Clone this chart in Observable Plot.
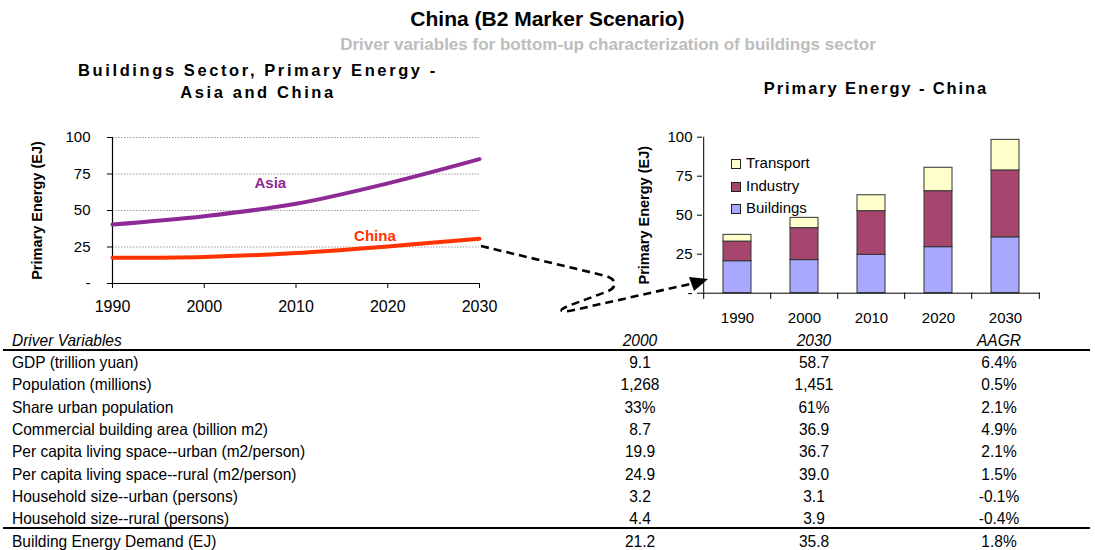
<!DOCTYPE html>
<html><head><meta charset="utf-8">
<script src="https://cdn.jsdelivr.net/npm/d3@7"></script>
<script src="https://cdn.jsdelivr.net/npm/@observablehq/plot@0.6"></script>
<style>
body{margin:0;background:#fff;font-family:Arial,"Liberation Sans",sans-serif;color:#000;}
#root{position:relative;width:1095px;height:550px;overflow:hidden;background:#fff;}
.abs{position:absolute;white-space:nowrap;}
.title{font-weight:bold;font-size:21px;left:0;width:1095px;text-align:center;line-height:24px;}
.sub{font-weight:bold;font-size:17px;text-align:center;color:#bdbdbd;line-height:20px;}
.ctitle{font-weight:bold;font-size:16.5px;letter-spacing:2.6px;text-align:center;line-height:22px;}
.leg{font-size:15px;line-height:18px;}
.sw{position:absolute;width:8px;height:8px;border:1px solid #222;}
.tbl{font-family:Arial,"Liberation Sans",sans-serif;font-size:16.5px;line-height:20px;transform:scaleX(0.94);transform-origin:left center;}
.num{width:120px;text-align:center;transform-origin:center center;}
.rule{position:absolute;height:2px;background:#000;}
</style></head><body><div id="root"></div><script>
// ---------- data ----------
const years = [1990, 2000, 2010, 2020, 2030];
const asia  = [40.4, 46.1, 54.6, 68.6, 85.2];
const china = [17.7, 18.2, 20.9, 25.4, 30.7];
const sectors = ["Buildings", "Industry", "Transport"];
const buildings = [20.5, 21.2, 24.6, 29.5, 35.8];
const industry  = [12.6, 20.5, 28.0, 35.9, 42.9];
const transport = [4.3, 6.6, 10.2, 15.0, 19.6];
const yTicks = [0, 25, 50, 75, 100];
const lineNames = ["Asia", "China"];
const lineLabelYear = [2007.2, 2018.6];
const lineLabelValue = [68.4, 32.3];
const tableHeader = ["Driver Variables", "2000", "2030", "AAGR"];
const driverLabels = ["GDP (trillion yuan)", "Population (millions)", "Share urban population",
  "Commercial building area (billion m2)", "Per capita living space--urban (m2/person)",
  "Per capita living space--rural (m2/person)", "Household size--urban (persons)", "Household size--rural (persons)"];
const col2000 = ["9.1", "1,268", "33%", "8.7", "19.9", "24.9", "3.2", "4.4"];
const col2030 = ["58.7", "1,451", "61%", "36.9", "36.7", "39.0", "3.1", "3.9"];
const colAAGR = ["6.4%", "0.5%", "2.1%", "4.9%", "2.1%", "1.5%", "-0.1%", "-0.4%"];
const totalRow = ["Building Energy Demand (EJ)", "21.2", "35.8", "1.8%"];

const root = document.getElementById("root");
const FONT = "Arial, 'Liberation Sans', sans-serif";
function div(cls, text, css) {
  const d = document.createElement("div");
  d.className = "abs " + cls;
  d.textContent = text;
  Object.assign(d.style, css);
  root.appendChild(d);
  return d;
}

// ---------- titles ----------
div("title", "China (B2 Marker Scenario)", {top: "7px"});
div("sub", "Driver variables for bottom-up characterization of buildings sector", {left: "258px", width: "700px", top: "35px"});
div("ctitle", "Buildings Sector, Primary Energy -", {left: "38px", width: "440px", top: "59px"});
div("ctitle", "Asia and China", {left: "38px", width: "440px", top: "81px"});
div("ctitle", "Primary Energy - China", {left: "726px", width: "300px", top: "77px", letterSpacing: "1.9px"});

// ---------- left line chart ----------
const lineData = years.flatMap((y, i) => [
  {year: y, value: asia[i], region: "Asia"},
  {year: y, value: china[i], region: "China"}
]);
const lineLabels = lineNames.map((n, i) => ({name: n, year: lineLabelYear[i], value: lineLabelValue[i]}));
const colors = {Asia: "#8E2A96", China: "#FF3300"};
const left = Plot.plot({
  width: 520, height: 200,
  marginLeft: 112, marginRight: 41, marginTop: 17, marginBottom: 37,
  style: {fontFamily: FONT, fontSize: "15px", color: "#000", background: "transparent", overflow: "visible"},
  x: {domain: [1990, 2030]},
  y: {domain: [0, 100]},
  marks: [
    Plot.gridY(yTicks.slice(1), {stroke: "#9a9a9a", strokeOpacity: 1, strokeDasharray: "1.5,1.5"}),
    Plot.axisY(yTicks, {tickFormat: d => d === 0 ? "-" : String(d), tickSize: 5, tickPadding: 17, label: null, fontSize: 15, stroke: "#000"}),
    Plot.axisX(years, {tickFormat: d => String(d), tickSize: 5, tickPadding: 12, label: null, fontSize: 16, stroke: "#000"}),
    Plot.ruleX([1990], {stroke: "#000", strokeWidth: 1.2}),
    Plot.ruleY([0], {stroke: "#000", strokeWidth: 1.2}),
    Plot.line(lineData, {x: "year", y: "value", z: "region", stroke: d => colors[d.region], strokeWidth: 4, curve: "catmull-rom"}),
    Plot.text(lineLabels, {x: "year", y: "value", text: "name", fill: d => colors[d.name], fontWeight: "bold", fontSize: 15, letterSpacing: "2.2px"}),
    Plot.text(["Primary Energy (EJ)"], {frameAnchor: "left", textAnchor: "middle", rotate: -90, dx: -75, fontWeight: "bold", fontSize: 14.5})
  ]
});
left.style.position = "absolute"; left.style.left = "0px"; left.style.top = "120px";
root.appendChild(left);

// ---------- right stacked bar chart ----------
const barData = years.flatMap((y, i) => [
  {year: y, sector: "Buildings", value: buildings[i]},
  {year: y, sector: "Industry", value: industry[i]},
  {year: y, sector: "Transport", value: transport[i]}
]);
const RW = 555, RML = 162, RMR = 55;
const step = (RW - RML - RMR) / years.length;
const right = Plot.plot({
  width: RW, height: 210,
  marginLeft: RML, marginRight: RMR, marginTop: 16.7, marginBottom: 37.3,
  style: {fontFamily: FONT, fontSize: "15px", color: "#000", background: "transparent", overflow: "visible"},
  x: {type: "band", domain: years, paddingInner: 0.585, paddingOuter: 0.2925},
  y: {domain: [0, 100]},
  color: {domain: sectors, range: ["#A8A8FF", "#A6466F", "#FFFFCC"]},
  marks: [
    Plot.barY(barData, {x: "year", y: "value", fill: "sector", stroke: "#333", strokeWidth: 1, order: sectors}),
    Plot.axisY(yTicks, {tickFormat: d => d === 0 ? "-" : String(d), tickSize: 5, tickPadding: 5, label: null, fontSize: 15, stroke: "#000"}),
    Plot.axisX(years, {tickFormat: d => String(d), tickSize: 0, tickPadding: 19, label: null, fontSize: 15}),
    Plot.ruleX(years, {x: d => d, dx: -step / 2, y1: 0, y2: -4, stroke: "#000"}),
    Plot.ruleX([years[years.length - 1]], {x: d => d, dx: step / 2, y1: 0, y2: -4, stroke: "#000"}),
    Plot.ruleX([years[0]], {x: d => d, dx: -step / 2, y1: 0, y2: 100, stroke: "#000"}),
    Plot.ruleY([0], {stroke: "#000"}),
    Plot.text(["Primary Energy (EJ)"], {frameAnchor: "left", textAnchor: "middle", rotate: -90, dx: -58, fontWeight: "bold", fontSize: 14.5})
  ]
});
right.style.position = "absolute"; right.style.left = "540px"; right.style.top = "120px";
root.appendChild(right);

// legend (top to bottom: Transport, Industry, Buildings)
const legColors = {Buildings: "#A8A8FF", Industry: "#A6466F", Transport: "#FFFFCC"};
sectors.slice().reverse().forEach((s, i) => {
  const top = 154 + i * 22.7;
  const sw = document.createElement("div");
  sw.className = "sw"; sw.style.left = "731px"; sw.style.top = (top + 5) + "px"; sw.style.background = legColors[s];
  root.appendChild(sw);
  div("leg", s, {left: "746px", top: top + "px"});
});

// ---------- dashed arrow annotation ----------
const ns = "http://www.w3.org/2000/svg";
const ov = document.createElementNS(ns, "svg");
ov.setAttribute("width", 1095); ov.setAttribute("height", 550);
ov.style.position = "absolute"; ov.style.left = "0"; ov.style.top = "0"; ov.style.pointerEvents = "none";
ov.innerHTML = `<path d="M481,246 L606,276 C618,280 617,288 606,292 L568,306 C556,311 562,313 574,310 L690,284" fill="none" stroke="#000" stroke-width="2.6" stroke-dasharray="8,5"/>
<polygon points="708,279 689,277 694,291" fill="#000"/>`;
root.appendChild(ov);

// ---------- table ----------
const colCenters = [640, 814, 999];
function row(cells, cy, italic) {
  const top = (cy - 10) + "px";
  div("tbl", cells[0], {left: "12px", top, fontStyle: italic ? "italic" : "normal"});
  cells.slice(1).forEach((c, j) => div("tbl num", c, {left: (colCenters[j] - 60) + "px", top, fontStyle: italic ? "italic" : "normal"}));
}
row(tableHeader, 340, true);
driverLabels.forEach((l, i) => row([l, col2000[i], col2030[i], colAAGR[i]], 362 + i * 22.35, false));
row(totalRow, 541, false);
const r1 = document.createElement("div"); r1.className = "rule";
Object.assign(r1.style, {left: "3px", width: "1087px", top: "349px"}); root.appendChild(r1);
const r2 = document.createElement("div"); r2.className = "rule";
Object.assign(r2.style, {left: "3px", width: "1087px", top: "527px"}); root.appendChild(r2);
</script></body></html>
